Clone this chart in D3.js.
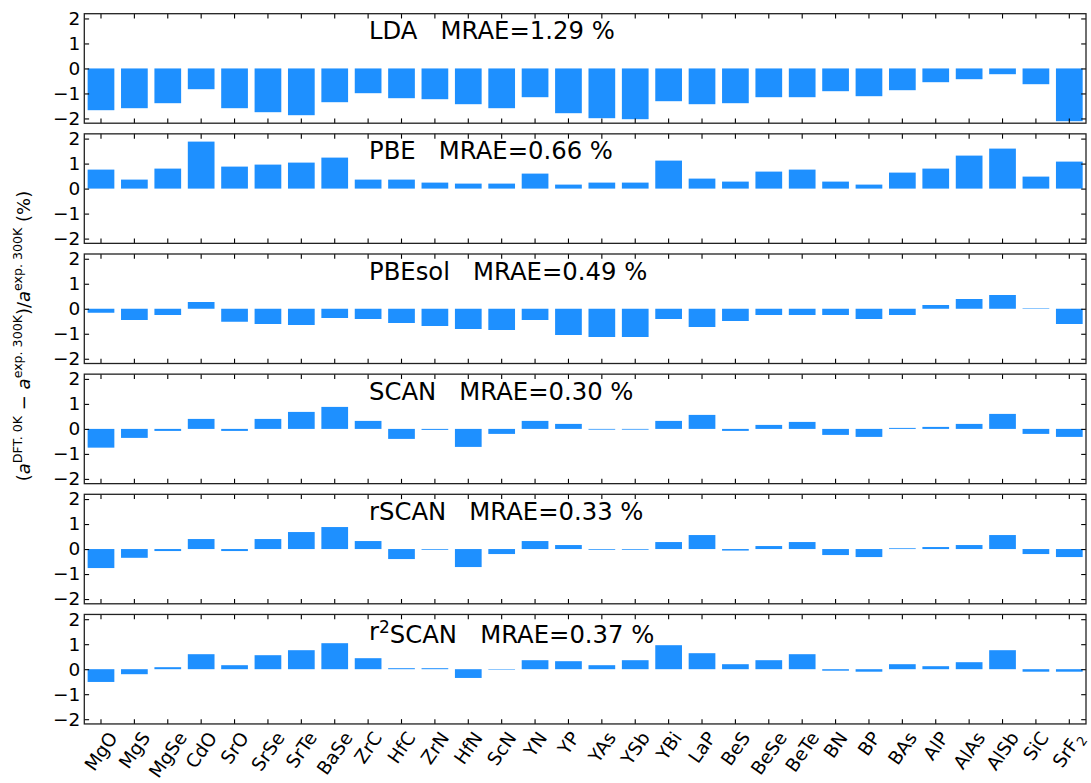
<!DOCTYPE html>
<html>
<head>
<meta charset="utf-8">
<script src="https://cdn.jsdelivr.net/npm/d3@7"></script>
<style>
  html, body { margin: 0; padding: 0; background: #fff; }
  svg text { font-family: "DejaVu Sans", sans-serif; fill: #000; }
</style>
</head>
<body>
<svg id="chart" width="1091" height="783"></svg>
<script>
// Compounds on the x axis
const categories = ["MgO","MgS","MgSe","CdO","SrO","SrSe","SrTe","BaSe","ZrC","HfC",
  "ZrN","HfN","ScN","YN","YP","YAs","YSb","YBi","LaP","BeS",
  "BeSe","BeTe","BN","BP","BAs","AlP","AlAs","AlSb","SiC","SrF2"];

// Relative lattice-constant error (%) for each functional
const ldaValues = [-1.67,-1.59,-1.39,-0.83,-1.59,-1.75,-1.87,-1.35,-0.99,-1.19,
  -1.23,-1.43,-1.59,-1.15,-1.79,-1.99,-2.03,-1.31,-1.43,-1.39,
  -1.15,-1.15,-0.91,-1.11,-0.87,-0.55,-0.43,-0.23,-0.63,-2.11];
const pbeValues = [0.76,0.36,0.80,1.88,0.88,0.96,1.04,1.24,0.36,0.36,
  0.24,0.20,0.20,0.60,0.16,0.24,0.24,1.12,0.40,0.28,
  0.68,0.76,0.28,0.16,0.64,0.80,1.32,1.60,0.48,1.08];
const pbesolValues = [-0.16,-0.45,-0.25,0.27,-0.52,-0.61,-0.65,-0.37,-0.41,-0.57,
  -0.69,-0.81,-0.85,-0.45,-1.05,-1.13,-1.13,-0.41,-0.73,-0.49,
  -0.25,-0.25,-0.25,-0.41,-0.25,0.15,0.39,0.55,0.02,-0.61];
const scanValues = [-0.75,-0.36,-0.08,0.40,-0.08,0.40,0.68,0.88,0.32,-0.40,
  -0.04,-0.72,-0.20,0.32,0.20,-0.03,-0.03,0.32,0.56,-0.08,
  0.16,0.28,-0.24,-0.32,0.04,0.08,0.20,0.60,-0.20,-0.32];
const rscanValues = [-0.76,-0.35,-0.08,0.40,-0.08,0.40,0.68,0.88,0.32,-0.40,
  -0.03,-0.72,-0.20,0.32,0.16,-0.03,-0.03,0.28,0.56,-0.06,
  0.12,0.28,-0.24,-0.32,0.03,0.08,0.16,0.56,-0.20,-0.32];
const r2scanValues = [-0.51,-0.20,0.08,0.60,0.16,0.56,0.76,1.04,0.44,0.04,
  0.04,-0.35,-0.02,0.36,0.32,0.16,0.36,0.96,0.64,0.20,
  0.36,0.60,-0.06,-0.10,0.20,0.12,0.28,0.76,-0.10,-0.10];

// Functional names (base + optional superscript) and their MRAE
const methodNames = [["LDA"],["PBE"],["PBEsol"],["SCAN"],["rSCAN"],["r","2","SCAN"]];
const mraeLabels = ["1.29","0.66","0.49","0.30","0.33","0.37"];
const seriesValues = [ldaValues, pbeValues, pbesolValues, scanValues, rscanValues, r2scanValues];

const yTickValues = [-2,-1,0,1,2];
const yDomain = [-2.19, 2.19];

// ---- layout ----
const svg = d3.select("#chart");
const left = 84.3, right = 1086;
const top0 = 13.7, step = 120.15, panelH = 109.5;
const barColor = "#1E90FF";
const tickLen = 4.8;
const tickFont = 18.5;

const x = d3.scaleBand().domain(categories).range([left, right])
  .paddingInner(0.2).paddingOuter(0.1);
const xc = c => x(c) + x.bandwidth() / 2;

const fmt = v => (v < 0 ? "\u2212" + Math.abs(v) : String(v));

function styleAxis(g) {
  g.attr("font-family", null).attr("font-size", null);
  g.select(".domain").remove();
  g.selectAll(".tick line").attr("stroke", "#000").attr("stroke-width", 1.1);
  g.selectAll(".tick text").style("font-size", tickFont + "px").attr("fill", "#000");
}

seriesValues.forEach((vals, i) => {
  const top = top0 + i * step;
  const y = d3.scaleLinear().domain(yDomain).range([top + panelH, top]);
  const g = svg.append("g");

  // bars
  g.selectAll("rect.bar").data(categories).join("rect")
    .attr("class", "bar")
    .attr("x", c => x(c))
    .attr("width", x.bandwidth())
    .attr("y", (c, k) => Math.min(y(vals[k]), y(0)))
    .attr("height", (c, k) => Math.abs(y(vals[k]) - y(0)))
    .attr("fill", barColor);

  // inward ticks on all four sides
  g.append("g").attr("transform", `translate(${left},0)`)
    .call(d3.axisLeft(y).tickValues(yTickValues).tickSize(-tickLen).tickSizeOuter(0)
      .tickPadding(4).tickFormat(fmt))
    .call(styleAxis);
  g.append("g").attr("transform", `translate(${right},0)`)
    .call(d3.axisRight(y).tickValues(yTickValues).tickSize(-tickLen).tickSizeOuter(0).tickFormat(""))
    .call(styleAxis);
  g.append("g").attr("transform", `translate(0,${top})`)
    .call(d3.axisTop(x).tickSize(-tickLen).tickSizeOuter(0).tickFormat(""))
    .call(styleAxis);
  g.append("g").attr("transform", `translate(0,${top + panelH})`)
    .call(d3.axisBottom(x).tickSize(-tickLen).tickSizeOuter(0).tickFormat(""))
    .call(styleAxis);

  // frame
  g.append("rect")
    .attr("x", left).attr("y", top)
    .attr("width", right - left).attr("height", panelH)
    .attr("fill", "none").attr("stroke", "#222").attr("stroke-width", 1.3);

  // panel title
  const t = g.append("text")
    .attr("x", 369).attr("y", top + 25.5)
    .style("font-size", "24.3px")
    .style("white-space", "pre");
  const nm = methodNames[i];
  t.append("tspan").text(nm[0]);
  if (nm.length > 1) {
    t.append("tspan").attr("dy", "-0.42em").style("font-size", "17px").text(nm[1]);
    t.append("tspan").attr("dy", "0.42em").text(nm[2]);
  }
  t.append("tspan").text("   MRAE=" + mraeLabels[i] + " %");
});

// rich text helper: parts with optional sup/sub and italic
function appendRich(textSel, parts, baseSize) {
  let shift = 0;
  parts.forEach(p => {
    const ts = textSel.append("tspan").text(p.t);
    let target = 0;
    if (p.sup) target = -0.45 * baseSize;
    if (p.sub) target = 0.25 * baseSize;
    if (target !== shift) { ts.attr("dy", target - shift); shift = target; }
    if (p.sup || p.sub) ts.style("font-size", (baseSize * 0.7) + "px");
    if (p.italic) ts.style("font-style", "italic");
  });
}

// x tick labels (bottom panel), rotated with their box centred on the tick
const bottomY = top0 + 5 * step + panelH;
const ang = 55;
const labelG = svg.append("g");
categories.forEach(c => {
  const m = c.match(/^(.*?)(\d+)$/);
  const parts = m ? [{t: m[1]}, {t: m[2], sub: true}] : [{t: c}];
  const t = labelG.append("text").style("font-size", tickFont + "px");
  appendRich(t, parts, tickFont);
  const bb = t.node().getBBox();
  const th = ang * Math.PI / 180;
  const hb = bb.width * Math.sin(th) + bb.height * Math.cos(th);
  t.attr("transform",
    `translate(${xc(c)},${bottomY + 4 + hb / 2}) rotate(${-ang}) translate(${-(bb.x + bb.width / 2)},${-(bb.y + bb.height / 2)})`);
});

// y axis title
const yl = svg.append("text")
  .attr("transform", "translate(30,336) rotate(-90)")
  .attr("text-anchor", "middle")
  .style("font-size", "18px")
  .style("white-space", "pre");
appendRich(yl, [
  {t: "("}, {t: "a", italic: true}, {t: "DFT. 0K", sup: true},
  {t: " \u2212 "}, {t: "a", italic: true}, {t: "exp. 300K", sup: true},
  {t: ")/"}, {t: "a", italic: true}, {t: "exp. 300K", sup: true},
  {t: " (%)"}
], 18);
</script>
</body>
</html>
